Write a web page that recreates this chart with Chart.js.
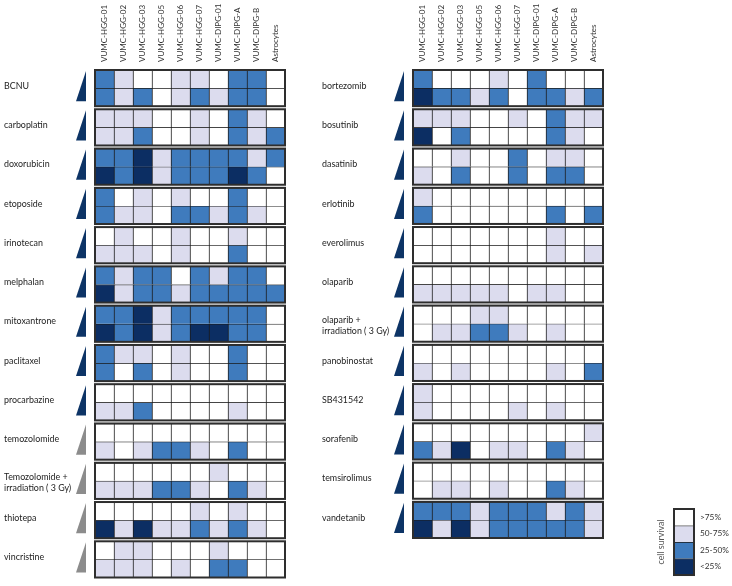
<!DOCTYPE html>
<html lang="en">
<head>
<meta charset="UTF-8">
<title>Cell survival heatmap</title>
<script src="https://cdn.jsdelivr.net/npm/chart.js@4"></script>
<style>
  body { margin: 0; background: #fff; }
  .wrap { position: relative; width: 732px; height: 586px; }
  canvas { position: absolute; }
  #leftChart { left: 0; top: 0; }
  #rightChart { left: 318px; top: 0; }
  #legendChart { left: 640px; top: 495px; }
</style>
</head>
<body>
<div class="wrap">
  <canvas id="leftChart" width="300" height="586"></canvas>
  <canvas id="rightChart" width="300" height="586"></canvas>
  <canvas id="legendChart" width="92" height="91"></canvas>
</div>
<script>
// survival class per cell: 0 = >75%, 1 = 50-75%, 2 = 25-50%, 3 = <25%
const cellLines = ['VUMC-HGG-01', 'VUMC-HGG-02', 'VUMC-HGG-03', 'VUMC-HGG-05', 'VUMC-HGG-06',
    'VUMC-HGG-07', 'VUMC-DIPG-01', 'VUMC-DIPG-A', 'VUMC-DIPG-B', 'Astrocytes'];
const survivalLabels = ['>75%', '50-75%', '25-50%', '<25%'];

const leftDrugs = ['BCNU', 'carboplatin', 'doxorubicin', 'etoposide', 'irinotecan', 'melphalan',
    'mitoxantrone', 'paclitaxel', 'procarbazine', 'temozolomide',
    ['Temozolomide +', 'irradiation ( 3 Gy)'], 'thiotepa', 'vincristine'];
const leftLowDose = [
    [2, 1, 0, 0, 1, 1, 0, 2, 2, 0],
    [1, 1, 1, 0, 0, 1, 0, 2, 1, 0],
    [2, 2, 3, 1, 2, 2, 2, 2, 1, 2],
    [2, 0, 1, 0, 1, 0, 0, 2, 0, 0],
    [0, 1, 0, 0, 1, 0, 0, 1, 0, 0],
    [2, 1, 2, 2, 0, 2, 1, 2, 2, 0],
    [2, 2, 3, 1, 2, 2, 2, 2, 2, 0],
    [2, 1, 1, 0, 1, 0, 0, 2, 0, 0],
    [0, 0, 0, 0, 0, 0, 0, 0, 0, 0],
    [0, 0, 0, 0, 0, 0, 0, 0, 0, 0],
    [0, 0, 0, 0, 0, 0, 1, 0, 0, 0],
    [0, 0, 0, 0, 0, 1, 0, 1, 0, 0],
    [0, 1, 1, 0, 0, 0, 1, 0, 0, 0]
];
const leftHighDose = [
    [2, 1, 2, 0, 1, 2, 1, 2, 2, 0],
    [1, 1, 2, 0, 0, 1, 0, 2, 1, 2],
    [3, 2, 3, 1, 2, 2, 2, 3, 2, 0],
    [2, 1, 1, 0, 2, 2, 1, 2, 1, 0],
    [1, 1, 1, 0, 1, 0, 0, 2, 0, 0],
    [3, 1, 2, 2, 1, 2, 2, 2, 2, 2],
    [3, 2, 3, 1, 2, 3, 3, 2, 2, 0],
    [2, 0, 2, 0, 1, 0, 0, 2, 0, 0],
    [1, 1, 2, 0, 0, 0, 0, 1, 0, 0],
    [1, 0, 1, 2, 2, 1, 0, 2, 0, 0],
    [1, 1, 1, 2, 2, 1, 0, 2, 1, 0],
    [3, 1, 3, 1, 1, 2, 1, 2, 1, 0],
    [1, 1, 1, 0, 1, 0, 2, 2, 0, 0]
];
// drugs drawn with a grey dose wedge
const leftGreyWedge = ['temozolomide', 'Temozolomide +', 'thiotepa', 'vincristine'];

const rightDrugs = ['bortezomib', 'bosutinib', 'dasatinib', 'erlotinib', 'everolimus', 'olaparib',
    ['olaparib +', 'irradiation ( 3 Gy)'], 'panobinostat', 'SB431542', 'sorafenib',
    'temsirolimus', 'vandetanib'];
const rightLowDose = [
    [2, 0, 0, 0, 1, 0, 2, 0, 0, 0],
    [1, 1, 1, 0, 0, 1, 0, 2, 1, 1],
    [0, 0, 1, 0, 0, 2, 0, 1, 1, 0],
    [1, 0, 0, 0, 0, 0, 0, 0, 0, 0],
    [0, 0, 0, 0, 0, 0, 0, 1, 0, 0],
    [0, 0, 0, 0, 0, 0, 0, 0, 0, 0],
    [0, 0, 0, 1, 1, 0, 0, 0, 0, 0],
    [0, 0, 0, 0, 0, 0, 0, 0, 0, 0],
    [1, 0, 0, 0, 0, 0, 0, 0, 0, 0],
    [0, 0, 0, 0, 0, 0, 0, 0, 0, 1],
    [0, 0, 0, 0, 0, 0, 0, 0, 0, 0],
    [2, 2, 2, 1, 2, 2, 2, 1, 2, 1]
];
const rightHighDose = [
    [3, 2, 2, 1, 2, 0, 2, 2, 1, 2],
    [3, 0, 2, 0, 0, 0, 0, 2, 1, 0],
    [1, 0, 2, 0, 0, 2, 0, 2, 2, 0],
    [2, 0, 0, 0, 0, 0, 0, 2, 0, 2],
    [0, 0, 0, 0, 0, 0, 0, 1, 0, 1],
    [1, 1, 1, 1, 1, 0, 1, 1, 0, 0],
    [0, 1, 1, 2, 2, 1, 0, 1, 0, 0],
    [1, 0, 1, 0, 0, 0, 0, 1, 0, 2],
    [1, 0, 0, 0, 0, 1, 0, 1, 0, 0],
    [2, 1, 3, 0, 1, 1, 0, 2, 1, 0],
    [0, 1, 1, 0, 1, 0, 0, 2, 1, 0],
    [3, 1, 3, 1, 2, 2, 2, 2, 2, 1]
];

const classColors = ['#ffffff', '#dcdcee', '#3f7bbd', '#0c2e63'];
const GAP = 0.17;              // space between drug blocks, in row units
const PITCH = 2 + GAP;
const FONT = 'Lato, "Liberation Sans", sans-serif';

// pick a font size so that a sample string gets the same width as in the original figure
const measureCtx = document.createElement('canvas').getContext('2d');
function fitSize(text, width) {
    measureCtx.font = '20px ' + FONT;
    return Math.round(20 * width / measureCtx.measureText(text).width * 10) / 10;
}
const colSize = fitSize('VUMC-HGG-01', 57);
const drugSize = fitSize('carboplatin', 44);
const keySize = fitSize('50-75%', 29);
const titleSize = fitSize('cell survival', 45);

// thick frame round each drug block plus the dose wedge left of it
const framePlugin = {
    id: 'frames',
    afterDatasetsDraw(chart, args, opts) {
        const {ctx, chartArea: a, scales: {y}} = chart;
        ctx.save();
        (opts.wedges || []).forEach(w => {
            const top = y.getPixelForValue(w.from);
            const bottom = y.getPixelForValue(w.to);
            const right = a.left - 9;
            ctx.fillStyle = w.color;
            ctx.beginPath();
            ctx.moveTo(right, top + 1);
            ctx.lineTo(right, bottom - 5);
            ctx.lineTo(right - 10, bottom - 5);
            ctx.closePath();
            ctx.fill();
        });
        ctx.lineWidth = 2;
        ctx.strokeStyle = '#2e2e2e';
        opts.blocks.forEach(([s, e]) => {
            const t = y.getPixelForValue(s);
            const b = y.getPixelForValue(e);
            ctx.strokeRect(a.left, t, a.right - a.left, b - t);
        });
        ctx.restore();
    }
};

const cellStyle = {
    borderColor: '#1a1a1a',
    borderWidth: {top: 1, left: 1, right: 0, bottom: 0},
    borderSkipped: false,
    barPercentage: 1,
    categoryPercentage: 1
};
const noGrid = {display: false, drawTicks: false};

function makeHeatmap(id, drugs, low, high, greyList, bottomPad) {
    const datasets = [];
    drugs.forEach((d, i) => {
        [low[i], high[i]].forEach((row, r) => {
            const y0 = i * PITCH + r;
            datasets.push(Object.assign({
                data: row.map(() => [y0, y0 + 1]),
                backgroundColor: row.map(v => classColors[v]),
                stack: 'cells'
            }, cellStyle));
        });
    });

    const blocks = drugs.map((d, i) => [i * PITCH, i * PITCH + 2]);
    const wedges = drugs.map((d, i) => {
        const name = Array.isArray(d) ? d[0] : d;
        return {from: i * PITCH, to: i * PITCH + 2,
            color: greyList.includes(name) ? '#8c8c8c' : '#0d3466'};
    });

    return new Chart(id, {
        type: 'bar',
        data: {labels: cellLines, datasets: datasets},
        options: {
            responsive: false,
            animation: false,
            events: [],
            layout: {padding: {left: 4, top: 0, right: 15, bottom: bottomPad}},
            plugins: {
                legend: {display: false},
                tooltip: {enabled: false},
                frames: {blocks: blocks, wedges: wedges}
            },
            scales: {
                x: {
                    position: 'top',
                    stacked: true,
                    grid: noGrid,
                    border: {display: false},
                    ticks: {
                        minRotation: 90, maxRotation: 90, autoSkip: false, padding: 8,
                        labelOffset: colSize * 1.2,
                        color: '#333', font: {family: FONT, size: colSize}
                    },
                    afterFit(s) { s.height = 70; }
                },
                y: {
                    type: 'linear',
                    reverse: true,
                    stacked: false,
                    min: 0,
                    max: drugs.length * PITCH - GAP,
                    grid: noGrid,
                    border: {display: false},
                    afterBuildTicks(s) {
                        s.ticks = drugs.map((d, i) => ({value: i * PITCH + 1 - (Array.isArray(d) ? -0.1 : 0.12)}));
                    },
                    ticks: {
                        autoSkip: false,
                        crossAlign: 'far',
                        color: '#222',
                        font: {family: FONT, size: drugSize, lineHeight: 11 / drugSize},
                        callback: (v, i) => drugs[i]
                    },
                    afterFit(s) { s.width = 91; }
                }
            }
        },
        plugins: [framePlugin]
    });
}

makeHeatmap('leftChart', leftDrugs, leftLowDose, leftHighDose, leftGreyWedge, 8);
makeHeatmap('rightChart', rightDrugs, rightLowDose, rightHighDose, [], 48);

// colour key
new Chart('legendChart', {
    type: 'bar',
    data: {
        labels: [''],
        datasets: survivalLabels.map((l, k) => Object.assign({
            data: [1],
            backgroundColor: classColors[k],
            yAxisID: 'y'
        }, cellStyle))
    },
    options: {
        responsive: false,
        animation: false,
        events: [],
        layout: {padding: {top: 14, bottom: 6, left: 0, right: 0}},
        plugins: {
            legend: {display: false},
            tooltip: {enabled: false},
            frames: {blocks: [[0, 4]]}
        },
        scales: {
            x: {display: false, stacked: true},
            y: {
                position: 'right',
                stacked: true,
                reverse: true,
                min: 0,
                max: 4,
                grid: noGrid,
                border: {display: false},
                afterBuildTicks(s) { s.ticks = survivalLabels.map((l, k) => ({value: k + 0.5})); },
                ticks: {
                    autoSkip: false, padding: 6, color: '#333',
                    font: {family: FONT, size: keySize},
                    callback: (v, i) => survivalLabels[i]
                },
                afterFit(s) { s.width = 38; }
            },
            y2: {
                position: 'left',
                min: 0,
                max: 4,
                grid: noGrid,
                border: {display: false},
                ticks: {display: false},
                title: {
                    display: true, text: 'cell survival', color: '#555',
                    font: {family: FONT, size: titleSize}, padding: {top: 16, bottom: 0}
                },
                afterFit(s) { s.width = 34; }
            }
        }
    },
    plugins: [framePlugin]
});
</script>
</body>
</html>
